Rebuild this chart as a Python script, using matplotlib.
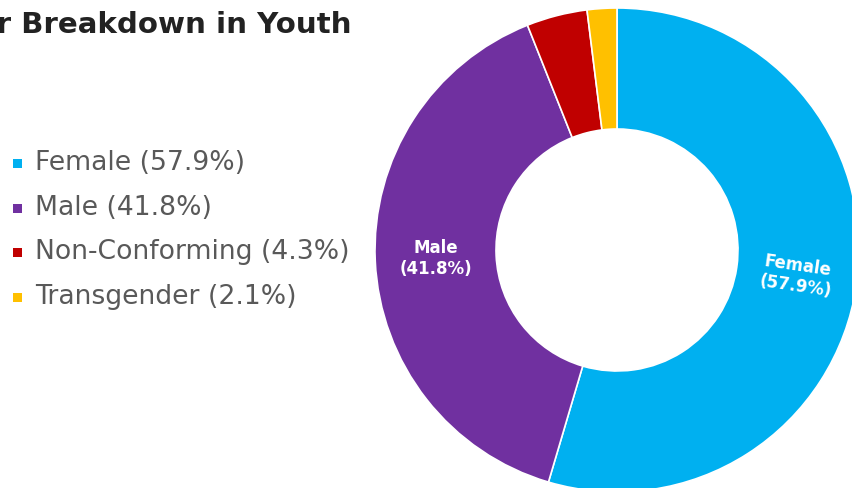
import numpy as np
import matplotlib.pyplot as plt
from matplotlib.patches import Rectangle

# survey breakdown (shares as reported, they don't sum to 100)
categories = ['Female', 'Male', 'Non-Conforming', 'Transgender']
shares = [57.9, 41.8, 4.3, 2.1]
colors = ['#00B0F0', '#7030A0', '#C00000', '#FFC000']
title = 'Gender Breakdown in Youth'

FONT = 'DejaVu Sans'
W, H = 853, 488
fig = plt.figure(figsize=(W / 100, H / 100), dpi=100)

# donut: center and outer radius in pixels
cx, cy, r = 617, 250, 242
ax = fig.add_axes([(cx - r) / W, (H - cy - r) / H, 2 * r / W, 2 * r / H])
wedges, _ = ax.pie(shares, colors=colors, startangle=90, counterclock=False,
                   radius=1.0, wedgeprops=dict(width=0.5, edgecolor='white', linewidth=1.2))
ax.set_xlim(-1, 1)
ax.set_ylim(-1, 1)
ax.set_aspect('equal')
ax.axis('off')

# labels inside the two big slices, tilted along the radius
for w, name, val in zip(wedges[:2], categories[:2], shares[:2]):
    mid = np.deg2rad((w.theta1 + w.theta2) / 2)
    x, y = 0.75 * np.cos(mid), 0.75 * np.sin(mid)
    rot = np.rad2deg(mid)
    if np.cos(mid) < 0:
        rot -= 180
    rot = (rot + 180) % 360 - 180
    if abs(rot) < 3:
        rot = 0
    ax.text(x, y, f'{name}\n({val}%)', ha='center', va='center', color='white',
            fontsize=12, fontweight='bold', family=FONT, rotation=rot,
            rotation_mode='anchor', linespacing=1.2)

# title (runs off the left edge)
fig.text(352 / W, 1 - 33 / H, title, ha='right', va='baseline', fontsize=21.1,
         fontweight='bold', family=FONT, color='#222222')

# legend
row0, step = 163, 44.7
for i, (name, val, c) in enumerate(zip(categories, shares, colors)):
    yc = row0 + i * step
    fig.add_artist(Rectangle((13 / W, 1 - (yc + 5) / H), 9 / W, 9 / H,
                             transform=fig.transFigure, color=c, lw=0))
    fig.text(35 / W, 1 - yc / H, f'{name} ({val}%)', ha='left', va='center',
             fontsize=19.2, family=FONT, color='#595959')

fig.savefig('out.png', dpi=100)
